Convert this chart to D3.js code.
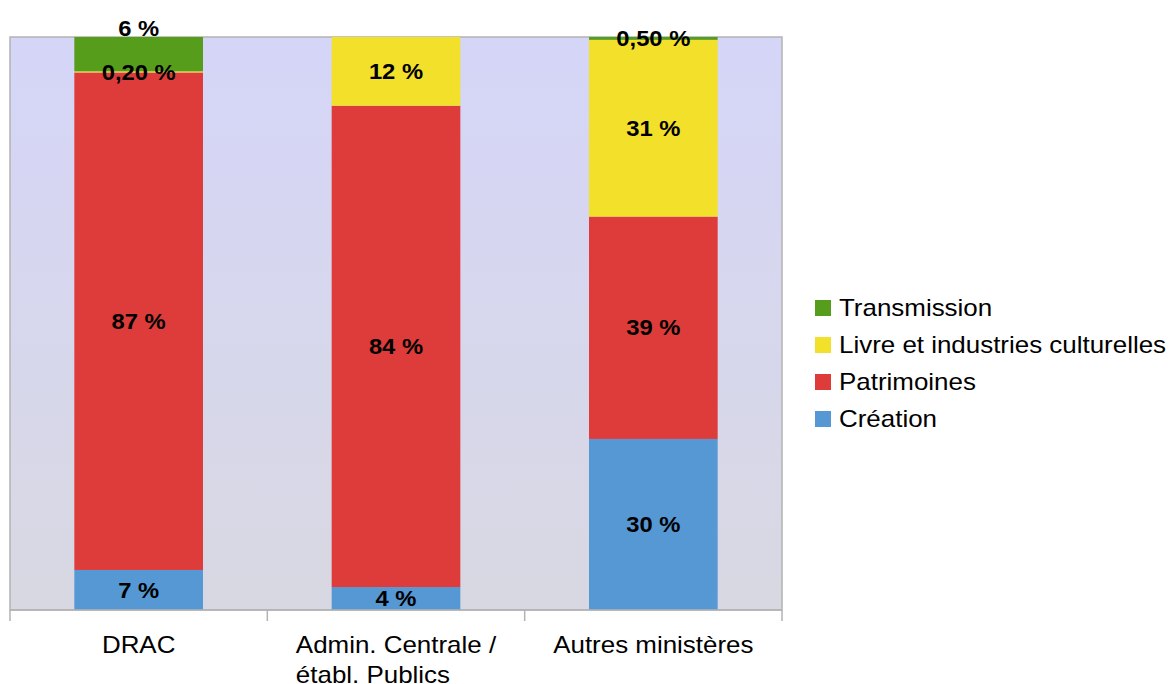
<!DOCTYPE html>
<html>
<head>
<meta charset="utf-8">
<script src="https://cdn.jsdelivr.net/npm/d3@7"></script>
<style>
  body { margin: 0; background: #fff; }
  svg { display: block; font-family: "Liberation Sans", Arial, sans-serif; }
</style>
</head>
<body>
<svg id="chart"></svg>
<script>
const categories = ["DRAC", "Admin. Centrale /\nétabl. Publics", "Autres ministères"];
const seriesNames = ["Création", "Patrimoines", "Livre et industries culturelles", "Transmission"];
const creation = [7, 4, 30];
const patrimoines = [87, 84, 39];
const livre = [0.2, 12, 31];
const transmission = [6, 0, 0.5];
const colors = ["#5598d4", "#dd3c3b", "#f3e02b", "#579d1c"];

const w = 1170;
const h = 684;
const plotLeft = 10, plotRight = 782, plotTop = 37, plotBottom = 610;
const stretchX = 1.08; // text in the original is rendered a bit wider than normal

const svg = d3.select("#chart").attr("width", w).attr("height", h);

const defs = svg.append("defs");
const grad = defs.append("linearGradient").attr("id", "bg").attr("x1", 0).attr("y1", 0).attr("x2", 0).attr("y2", 1);
grad.append("stop").attr("offset", "0%").attr("stop-color", "#d5d5f8");
grad.append("stop").attr("offset", "100%").attr("stop-color", "#d8d8e2");

const widen = (node) => {
  const len = node.getComputedTextLength();
  d3.select(node).attr("textLength", len * stretchX).attr("lengthAdjust", "spacingAndGlyphs");
  return len * stretchX;
};

// build rows per category
const seriesValues = [creation, patrimoines, livre, transmission];
const rows = categories.map((c, i) => {
  const row = { cat: c };
  seriesNames.forEach((s, j) => (row[s] = seriesValues[j][i]));
  return row;
});

const stack = d3.stack().keys(seriesNames).offset(d3.stackOffsetExpand);
const stacked = stack(rows);

const x = d3.scaleBand().domain(categories).range([plotLeft, plotRight]).paddingInner(0.5).paddingOuter(0.25);
const y = d3.scaleLinear().domain([0, 1]).range([plotBottom, plotTop]);

svg.append("rect")
  .attr("x", plotLeft).attr("y", plotTop)
  .attr("width", plotRight - plotLeft).attr("height", plotBottom - plotTop)
  .attr("fill", "url(#bg)")
  .attr("stroke", "#b3b3b3").attr("stroke-width", 1.5);

svg.append("g")
  .selectAll("g")
  .data(stacked)
  .enter()
  .append("g")
  .attr("fill", (d, i) => colors[i])
  .selectAll("rect")
  .data((d) => d)
  .enter()
  .append("rect")
  .attr("x", (d) => x(d.data.cat))
  .attr("width", x.bandwidth())
  .attr("y", (d) => y(d[1]))
  .attr("height", (d) => y(d[0]) - y(d[1]));

// x axis with ticks at band boundaries
const step = x.step();
const boundaries = d3.range(categories.length + 1).map((i) => plotLeft + i * step);
const axis = svg.append("g");
axis.append("line")
  .attr("x1", plotLeft).attr("x2", plotRight).attr("y1", plotBottom).attr("y2", plotBottom)
  .attr("stroke", "#b3b3b3").attr("stroke-width", 1.5);
axis.selectAll(".tick")
  .data(boundaries)
  .enter()
  .append("line")
  .attr("x1", (d) => d).attr("x2", (d) => d)
  .attr("y1", plotBottom).attr("y2", plotBottom + 11)
  .attr("stroke", "#b3b3b3").attr("stroke-width", 1.5);

// category labels
categories.forEach((c) => {
  const lines = c.split("\n");
  const cx = x(c) + x.bandwidth() / 2;
  const t = svg.append("text")
    .attr("font-size", 24)
    .attr("fill", "#000");
  lines.forEach((ln, k) => {
    t.append("tspan").attr("x", cx).attr("y", 653 + k * 30).text(ln);
  });
  let w0 = 0;
  t.selectAll("tspan").each(function (d, k) {
    const wl = widen(this);
    if (k === 0) w0 = wl;
  });
  t.selectAll("tspan").attr("x", cx - w0 / 2);
});

// value labels
const fmt = (v) => (v < 1 ? d3.format(".2f")(v).replace(".", ",") : d3.format("d")(v)) + " %";
categories.forEach((c, i) => {
  let prevY = null;
  stacked.forEach((layer, j) => {
    const v = seriesValues[j][i];
    if (!v) return;
    const d = layer[i];
    let cy = (y(d[0]) + y(d[1])) / 2;
    if (prevY !== null && prevY - cy < 22) cy = y(1) - 9;
    prevY = cy;
    const t = svg.append("text")
      .attr("x", x(c) + x.bandwidth() / 2)
      .attr("y", cy)
      .attr("dy", "0.35em")
      .attr("text-anchor", "middle")
      .attr("font-size", 22)
      .attr("font-weight", "bold")
      .text(fmt(v));
    widen(t.node());
  });
});

// legend
const legend = svg.append("g").attr("id", "legend");
const legendItems = seriesNames.map((s, i) => ({ s, c: colors[i] })).reverse();
legendItems.forEach((d, i) => {
  const ly = 308 + i * 37;
  legend.append("rect")
    .attr("x", 815).attr("y", ly - 8)
    .attr("width", 16).attr("height", 16)
    .attr("fill", d.c);
  const t = legend.append("text")
    .attr("x", 839).attr("y", ly)
    .attr("dy", "0.35em")
    .attr("font-size", 24)
    .text(d.s);
  widen(t.node());
});
</script>
</body>
</html>
